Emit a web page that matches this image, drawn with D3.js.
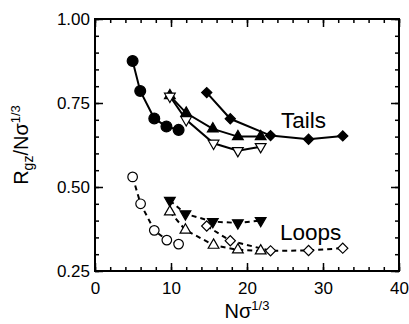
<!DOCTYPE html>
<html>
<head>
<meta charset="utf-8">
<script src="https://cdn.jsdelivr.net/npm/d3@7"></script>
<style>
  body { margin: 0; background: #fff; }
  svg { display: block; }
</style>
</head>
<body>
<div id="chart"></div>
<script>
// axis ticks
const xTicks = [0, 10, 20, 30, 40];
const yTicks = [0.25, 0.50, 0.75, 1.00];

// Tails (solid lines)  [N sigma^1/3, Rgz / N sigma^1/3]
const tailsCircles = [[4.95, 0.875], [5.95, 0.786], [7.8, 0.704], [9.4, 0.68], [11.0, 0.67]];
const tailsTriUp = [[9.85, 0.772], [12.0, 0.72], [15.5, 0.673], [18.8, 0.65], [21.8, 0.65]];
const tailsTriDown = [[9.85, 0.77], [12.0, 0.70], [15.6, 0.63], [18.8, 0.608], [21.8, 0.62]];
const tailsDiamonds = [[14.7, 0.781], [17.8, 0.703], [23.1, 0.653], [28.1, 0.642], [32.6, 0.652]];

// Loops (dashed lines)
const loopsCircles = [[4.95, 0.53], [6.0, 0.45], [7.8, 0.371], [9.45, 0.342], [11.0, 0.33]];
const loopsTriDown = [[9.85, 0.46], [11.9, 0.42], [15.5, 0.397], [18.8, 0.393], [21.8, 0.40]];
const loopsTriUp = [[9.85, 0.426], [11.9, 0.372], [15.6, 0.327], [18.8, 0.313], [21.8, 0.31]];
const loopsDiamonds = [[14.7, 0.384], [17.8, 0.34], [23.1, 0.31], [28.1, 0.311], [32.6, 0.318]];

const width = 409, height = 324;
const font = "'Liberation Sans', Arial, Helvetica, sans-serif";

const x = d3.scaleLinear().domain([0, 40]).range([95, 399]);
const y = d3.scaleLinear().domain([0.25, 1]).range([271, 19]);

const svg = d3.select('#chart').append('svg')
  .attr('width', width)
  .attr('height', height)
  .attr('font-family', font);

// ticks on all four sides, pointing in
function tickAxis(axisFn, scale, values, size, translate, fmt, pad) {
  const ax = axisFn(scale).tickValues(values).tickSize(-size).tickPadding(pad || 0);
  ax.tickFormat(fmt || (() => ''));
  const g = svg.append('g').attr('transform', translate).call(ax);
  g.select('.domain').remove();
  g.selectAll('line').attr('stroke', '#000').attr('stroke-width', 1.5);
  g.selectAll('text').attr('font-size', 17).attr('fill', '#000').attr('font-family', font);
  return g;
}

const xMinor = d3.range(0, 41, 2);
const yMinor = d3.range(0.25, 1.001, 0.05);

tickAxis(d3.axisBottom, x, xMinor, 4, 'translate(0,271)');
tickAxis(d3.axisBottom, x, xTicks, 8, 'translate(0,271)', d3.format('d'), 11);
tickAxis(d3.axisTop, x, xMinor, 4, 'translate(0,19)');
tickAxis(d3.axisTop, x, xTicks, 8, 'translate(0,19)');
tickAxis(d3.axisLeft, y, yMinor, 4, 'translate(95,0)');
tickAxis(d3.axisLeft, y, yTicks, 8, 'translate(95,0)', d3.format('.2f'), 5);
tickAxis(d3.axisRight, y, yMinor, 4, 'translate(399,0)');
tickAxis(d3.axisRight, y, yTicks, 8, 'translate(399,0)');

// frame
svg.append('rect')
  .attr('x', x(0)).attr('y', y(1))
  .attr('width', x(40) - x(0)).attr('height', y(0.25) - y(1))
  .attr('fill', 'none').attr('stroke', '#000').attr('stroke-width', 2);

const line = d3.line().x(d => x(d[0])).y(d => y(d[1]));

const series = [
  {data: tailsCircles, shape: 'circle', filled: true, dash: null},
  {data: tailsTriUp, shape: 'up', filled: true, dash: null},
  {data: tailsTriDown, shape: 'down', filled: false, dash: null},
  {data: tailsDiamonds, shape: 'diamond', filled: true, dash: null},
  {data: loopsCircles, shape: 'circle', filled: false, dash: '5,4'},
  {data: loopsTriDown, shape: 'down', filled: true, dash: '5,4'},
  {data: loopsTriUp, shape: 'up', filled: false, dash: '5,4'},
  {data: loopsDiamonds, shape: 'diamond', filled: false, dash: '5,4'}
];

series.forEach(s => {
  svg.append('path')
    .datum(s.data)
    .attr('d', line)
    .attr('fill', 'none')
    .attr('stroke', '#000')
    .attr('stroke-width', 2)
    .attr('stroke-dasharray', s.dash);
});

function symbolFor(shape, filled) {
  if (shape === 'circle') return d3.symbol(d3.symbolCircle, filled ? 92 : 72)();
  if (shape === 'diamond') return d3.symbol(d3.symbolSquare, 52)();
  return d3.symbol(d3.symbolTriangle, 50)();
}

function rotFor(shape) {
  if (shape === 'diamond') return 45;
  if (shape === 'down') return 180;
  return 0;
}

series.forEach(s => {
  svg.append('g').selectAll('path')
    .data(s.data)
    .join('path')
    .attr('d', symbolFor(s.shape, s.filled))
    .attr('transform', d => `translate(${x(d[0])},${y(d[1])}) rotate(${rotFor(s.shape)})`)
    .attr('fill', s.filled ? '#000' : '#fff')
    .attr('stroke', '#000')
    .attr('stroke-width', 1.2);
});

// series labels
svg.append('text')
  .attr('x', 281).attr('y', 128)
  .attr('font-size', 22.5)
  .text('Tails');
svg.append('text')
  .attr('x', 280).attr('y', 240)
  .attr('font-size', 22.5)
  .text('Loops');

// x axis title
const xt = svg.append('text')
  .attr('x', (x(0) + x(40)) / 2).attr('y', 318)
  .attr('text-anchor', 'middle')
  .attr('font-size', 20);
xt.append('tspan').text('Nσ');
xt.append('tspan').attr('dy', -8).attr('font-size', 13).text('1/3');

// y axis title
const yt = svg.append('text')
  .attr('transform', `translate(28,${(y(0.25) + y(1)) / 2}) rotate(-90)`)
  .attr('text-anchor', 'middle')
  .attr('font-size', 20);
yt.append('tspan').text('R');
yt.append('tspan').attr('dy', 5).attr('font-size', 14).text('gz');
yt.append('tspan').attr('dy', -5).text('/Nσ');
yt.append('tspan').attr('dy', -8).attr('font-size', 13).text('1/3');
</script>
</body>
</html>
